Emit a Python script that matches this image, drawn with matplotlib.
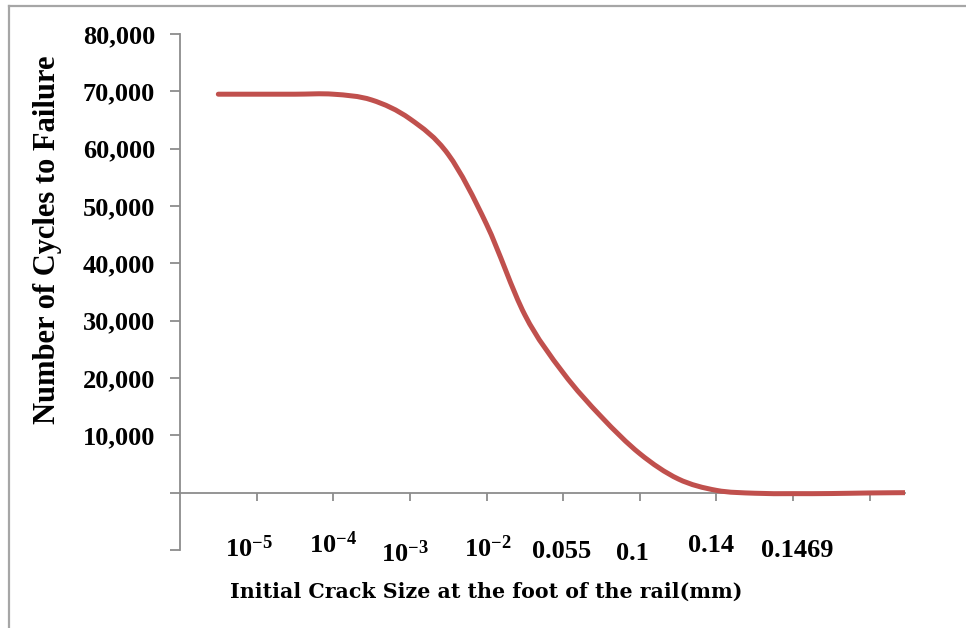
import matplotlib
matplotlib.use("Agg")
import matplotlib.pyplot as plt
import numpy as np
from matplotlib.path import Path
from matplotlib.patches import PathPatch
from matplotlib.lines import Line2D
from matplotlib.ticker import FuncFormatter, MultipleLocator

# ---- data (x in category-tick units, y = cycles to failure) ----
crack_pos = [0.5, 1.0, 1.5, 2.0, 2.5, 3.0, 3.5, 4.0, 4.5, 5.0,
             5.5, 6.0, 6.5, 7.0, 7.5, 8.0, 8.5, 9.0, 9.46]
cycles = [69500, 69500, 69500, 69500, 68500, 65200, 59000, 46800, 31000, 20900,
          13200, 6800, 2400, 400, -100, -170, -150, -50, 0]

tick_positions = [1, 2, 3, 4, 5, 6, 7, 8, 9]
tick_labels = [r'$\mathbf{10^{-5}}$', r'$\mathbf{10^{-4}}$', r'$\mathbf{10^{-3}}$',
               r'$\mathbf{10^{-2}}$', '0.055', '0.1', '0.14', '0.1469']
label_dx = [-8, 0, -5, 1, -2, -7, -5, 4]          # pixel nudges
label_dy = [-64, -60, -69, -64, -65, -67, -59, -64]  # baseline offsets (px)

plt.rcParams['mathtext.fontset'] = 'custom'
plt.rcParams['mathtext.rm'] = 'Liberation Serif'
plt.rcParams['mathtext.bf'] = 'Liberation Serif:bold'

W, H = 966, 628
fig = plt.figure(figsize=(W / 100, H / 100), dpi=100)
ax = fig.add_axes([180 / W, 1 - 550 / H, (905 - 180) / W, (550 - 34) / H])

ax.set_xlim(0, 9.46)
ax.set_ylim(-10000, 80000)

# smooth curve through points (Catmull-Rom style Bezier, like Excel's smoothing)
pts = np.column_stack([crack_pos, cycles]).astype(float)
verts = [pts[0]]
codes = [Path.MOVETO]
n = len(pts)
for i in range(n - 1):
    p0 = pts[i - 1] if i > 0 else pts[i]
    p1 = pts[i]
    p2 = pts[i + 1]
    p3 = pts[i + 2] if i + 2 < n else pts[i + 1]
    c1 = p1 + (p2 - p0) / 6.0
    c2 = p2 - (p3 - p1) / 6.0
    verts += [c1, c2, p2]
    codes += [Path.CURVE4] * 3
path = Path(verts, codes)
ax.add_patch(PathPatch(path, facecolor='none', edgecolor='#C0504D', lw=3.6,
                       capstyle='round', joinstyle='round', zorder=3))

axis_color = '#8c8c8c'
for s in ['top', 'right']:
    ax.spines[s].set_visible(False)
ax.spines['bottom'].set_position(('data', 0))
ax.spines['bottom'].set_color(axis_color)
ax.spines['left'].set_color(axis_color)
ax.spines['bottom'].set_linewidth(1.3)
ax.spines['left'].set_linewidth(1.3)

ax.yaxis.set_major_locator(MultipleLocator(10000))
ax.yaxis.set_major_formatter(FuncFormatter(lambda v, p: f"{int(round(v)):,}" if v > 0 else ""))
ax.tick_params(axis='y', direction='out', length=7, width=1.3, color=axis_color, pad=11)
for lab in ax.get_yticklabels():
    lab.set_fontfamily('Liberation Serif')
    lab.set_fontweight('bold')
    lab.set_fontsize(19)

ax.set_xticks(tick_positions)
ax.set_xticklabels([])
ax.tick_params(axis='x', direction='out', length=6, width=1.3, color=axis_color)

for pos, lab, dx, dy in zip(tick_positions, tick_labels, label_dx, label_dy):
    ax.annotate(lab, xy=(pos, 0), xycoords='data', xytext=(dx, dy),
                textcoords='offset pixels', ha='center', va='baseline',
                fontsize=19, fontweight='bold', family='Liberation Serif')

fig.text(48 / W, 1 - 240 / H, 'Number of Cycles to Failure', rotation=90,
         ha='center', va='center', fontsize=22, fontweight='bold',
         family='Liberation Serif')
fig.text(486 / W, 1 - 592 / H, 'Initial Crack Size at the foot of the rail(mm)',
         ha='center', va='center', fontsize=14.8, fontweight='bold',
         family='DejaVu Serif')

# outer frame (top and left edges)
fig.add_artist(Line2D([8.5 / W, 1.0], [1 - 5.5 / H, 1 - 5.5 / H], color='#a6a6a6', lw=1.6,
                      transform=fig.transFigure))
fig.add_artist(Line2D([8.5 / W, 8.5 / W], [0, 1 - 5.5 / H], color='#a6a6a6', lw=1.6,
                      transform=fig.transFigure))

fig.savefig('out.png', dpi=100)
